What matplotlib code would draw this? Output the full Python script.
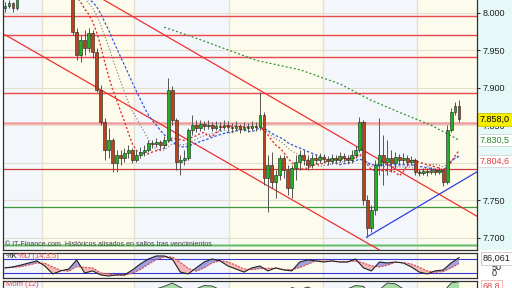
import numpy as np
import pandas as pd
import matplotlib
matplotlib.use("Agg")
import matplotlib.pyplot as plt
from matplotlib.patches import Rectangle

plt.rcParams['font.family'] = ['Liberation Sans', 'DejaVu Sans']

# price bars, open = previous close
first_open = 8.007
closes = [8.009, 8.013, 8.007, 8.024, 8.033, 8.041, 8.047, 8.051, 8.044, 8.037, 8.041, 8.047, 8.044, 8.037, 8.033, 8.031, 8.028,
          7.975, 7.944, 7.964, 7.953, 7.973, 7.948, 7.897, 7.855, 7.817, 7.831, 7.800, 7.811, 7.807, 7.813, 7.817, 7.804,
          7.811, 7.815, 7.817, 7.827, 7.825, 7.828, 7.824, 7.831,
          7.897, 7.857, 7.801, 7.804, 7.807, 7.844, 7.851, 7.847, 7.852, 7.849, 7.851, 7.847, 7.849, 7.848, 7.851, 7.848,
          7.847, 7.849, 7.845, 7.848, 7.847, 7.849, 7.848,
          7.864, 7.780, 7.797, 7.775, 7.784, 7.807, 7.791, 7.767, 7.793, 7.801, 7.811, 7.804, 7.797, 7.807, 7.804, 7.808,
          7.805, 7.803, 7.807, 7.804, 7.809, 7.807, 7.804, 7.811, 7.817,
          7.855, 7.751, 7.713, 7.737, 7.797, 7.811, 7.801, 7.807, 7.800, 7.808, 7.804, 7.807, 7.801, 7.804, 7.788, 7.787,
          7.789, 7.788, 7.791, 7.788, 7.791, 7.775, 7.844, 7.868, 7.876, 7.858]
highs = [8.015, 8.017, 8.015, 8.031, 8.040, 8.048, 8.053, 8.057, 8.051, 8.044, 8.048, 8.053, 8.051, 8.044, 8.040, 8.037, 8.035,
         8.028, 7.980, 7.971, 7.977, 7.980, 7.977, 7.953, 7.904, 7.860, 7.847, 7.833, 7.817, 7.817, 7.820, 7.824, 7.820,
         7.817, 7.821, 7.824, 7.831, 7.831, 7.833, 7.831, 7.836,
         7.913, 7.903, 7.860, 7.811, 7.817, 7.847, 7.864, 7.857, 7.857, 7.856, 7.857, 7.855, 7.856, 7.855, 7.857, 7.856,
         7.853, 7.856, 7.852, 7.855, 7.853, 7.856, 7.855,
         7.895, 7.868, 7.811, 7.815, 7.791, 7.811, 7.811, 7.797, 7.797, 7.811, 7.817, 7.817, 7.811, 7.812, 7.811, 7.813,
         7.812, 7.809, 7.812, 7.811, 7.815, 7.813, 7.811, 7.817, 7.823,
         7.861, 7.857, 7.757, 7.744, 7.804, 7.860, 7.837, 7.831, 7.817, 7.815, 7.812, 7.813, 7.811, 7.809, 7.807, 7.792,
         7.793, 7.793, 7.795, 7.793, 7.795, 7.793, 7.851, 7.873, 7.881, 7.884]
lows = [8.001, 8.007, 8.001, 8.004, 8.027, 8.035, 8.040, 8.044, 8.037, 8.031, 8.035, 8.040, 8.037, 8.031, 8.027, 8.024, 8.021,
        7.971, 7.937, 7.935, 7.944, 7.948, 7.940, 7.895, 7.851, 7.804, 7.807, 7.788, 7.788, 7.797, 7.801, 7.807, 7.800,
        7.801, 7.807, 7.809, 7.815, 7.820, 7.821, 7.819, 7.820,
        7.828, 7.851, 7.791, 7.784, 7.797, 7.804, 7.837, 7.841, 7.843, 7.844, 7.845, 7.843, 7.844, 7.843, 7.845, 7.843,
        7.841, 7.844, 7.840, 7.843, 7.841, 7.844, 7.843,
        7.844, 7.771, 7.735, 7.767, 7.753, 7.777, 7.780, 7.757, 7.753, 7.777, 7.791, 7.797, 7.791, 7.793, 7.799, 7.800,
        7.800, 7.797, 7.799, 7.799, 7.801, 7.801, 7.799, 7.800, 7.807,
        7.815, 7.744, 7.701, 7.708, 7.731, 7.784, 7.771, 7.784, 7.788, 7.793, 7.797, 7.799, 7.796, 7.797, 7.784, 7.783,
        7.784, 7.783, 7.785, 7.784, 7.785, 7.769, 7.772, 7.841, 7.864, 7.855]

# long moving average (bar index, price)
ma_long_x = [40, 49.25, 63, 74.25, 84.25, 91.75, 99.25, 106.75, 114]
ma_long_y = [7.981, 7.964, 7.937, 7.924, 7.905, 7.884, 7.867, 7.851, 7.8305]

red_levels = [7.996, 7.971, 7.941, 7.893]
pink_level = 7.853
red_level = 7.792
green_level = 7.741
green_level2 = 7.691

chan_a = ([0, 94], [7.971, 7.684])
chan_b = ([24, 118.5], [8.020, 7.729])
up_line = ([90.75, 118.75], [7.701, 7.789])

day_breaks = [9.25, 32.5, 56.25, 79.75, 103.5]
price_ticks = [7.70, 7.75, 7.80, 7.85, 7.90, 7.95, 8.00]

# stochastic %K, every second bar
stoch_k = [42, 46, 54, 63, 72, 50, 16, 29, 37, 76, 20, 29, 12, 7, 12, 12, 33, 59, 80, 93,
           93, 80, 24, 16, 42, 67, 80, 72, 50, 37, 24, 42, 50, 29, 42, 33, 29, 67, 76, 72,
           67, 72, 67, 67, 80, 42, 29, 67, 63, 67, 63, 46, 24, 16, 29, 33, 63, 86.06]
# momentum (12), every second bar
mom = [-10, -25, -40, -55, -60, -50, -30, -20, -35, -45, -50, -40, -30, -15, 0, 10, 5, 15, 20, 25,
       40, 60, 35, 10, 25, 45, 42, 20, 5, -10, -20, -5, 10, -15, -30, -10, 33, 20, 36, 15,
       5, 10, 15, 25, 45, 40, -20, 20, 60, 55, 25, 10, -5, -15, -10, 5, 60, 68.8]

W, H = 512, 288
fig = plt.figure(figsize=(W / 100, H / 100), dpi=100, facecolor='white')
fig.patches.append(Rectangle((477 / W, 38 / H), 35 / W, 250 / H, transform=fig.transFigure,
                             fc='#e6f9f9', ec='none', zorder=-5))

ax = fig.add_axes([3 / W, 38 / H, 474 / W, 250 / H])
ax_st = fig.add_axes([3 / W, 10 / H, 474 / W, 25 / H])
ax_m = fig.add_axes([3 / W, -18 / H, 474 / W, 25 / H])

x_lo, x_hi = -0.5, 118.5
edges = [x_lo] + day_breaks + [x_hi]
for a in (ax, ax_st, ax_m):
    a.set_xlim(x_lo, x_hi)
    a.set_facecolor('none')
    for k in range(len(edges) - 1):
        a.axvspan(edges[k], edges[k + 1], color='#f3f7fc' if k % 2 == 0 else '#fdfcec', lw=0, zorder=0)
    for b in day_breaks:
        a.axvline(b, color='#e4e1d2', lw=1, zorder=1)
    a.set_xticks([])
    for s in a.spines.values():
        s.set_color('#303030')
        s.set_linewidth(0.9)

# main panel
ax.set_ylim(7.684, 8.0173)
for t in price_ticks:
    ax.axhline(t, color='#e2dfcf', lw=0.8, zorder=1)
for lv in red_levels:
    ax.axhline(lv, color='#f6c4c4', lw=1.8, zorder=1)
    ax.axhline(lv, color='#e84848', lw=0.7, zorder=1)
ax.axhline(pink_level, color='#f6b8b8', lw=2.2, zorder=1)
ax.axhline(pink_level, color='#ee9090', lw=0.6, zorder=1)
ax.axhline(red_level, color='#d03838', lw=0.9, zorder=1)
ax.axhline(green_level, color='#3c963c', lw=0.9, zorder=1)
ax.axhline(green_level2, color='#a8dca8', lw=2.2, zorder=1)
ax.axhline(green_level2, color='#60b060', lw=0.6, zorder=1)

ax.plot(*chan_a, color='#f03030', lw=0.9, zorder=2)
ax.plot(*chan_b, color='#f03030', lw=0.9, zorder=2)
ax.plot(*up_line, color='#3040e0', lw=0.9, zorder=2)

c = np.array(closes)
o = np.array([first_open] + closes[:-1])
x = np.arange(len(c))
s = pd.Series(closes)
ax.plot(x, s.rolling(15).mean(), color='#8c8c8c', lw=0.9, ls=(0, (1, 1.5)), zorder=3)
ax.plot(x, s.rolling(20).mean(), color='#3355dd', lw=0.9, ls=(0, (2, 1.5)), zorder=3)
ax.plot(x, s.rolling(10).mean(), color='#e03030', lw=1.0, ls=(0, (1.5, 1.5)), zorder=3)
ax.plot(ma_long_x, ma_long_y, color='#2e8b2e', lw=0.9, ls=(0, (1.5, 1.8)), zorder=3)

ax.vlines(x, lows, highs, color='#555555', lw=0.7, zorder=4)
up = c >= o
body = np.maximum(np.abs(c - o), 0.0008)
ax.bar(x[up], body[up], bottom=o[up], width=0.7, color='#22b022', edgecolor='#1e1e1e', lw=0.4, zorder=5)
ax.bar(x[~up], body[~up], bottom=c[~up], width=0.7, color='#b8441c', edgecolor='#1e1e1e', lw=0.4, zorder=5)

ax.yaxis.tick_right()
ax.set_yticks(price_ticks)
ax.set_yticklabels([f"{t:.3f}" for t in price_ticks], fontsize=6.5, color='#202020')
ax.tick_params(axis='y', length=2, pad=2, color='#303030')
ax.spines['top'].set_visible(False)

yt = ax.get_yaxis_transform()
ax.text(1.006, 7.858, '7.858,0', transform=yt, fontsize=6.5, va='center', ha='left', zorder=10,
        bbox=dict(boxstyle='square,pad=0.2', fc='#f6ef00', ec='#c8b800', lw=0.5))
ax.text(1.006, 7.8305, '7.830,5', transform=yt, fontsize=6.5, va='center', ha='left', color='#2a8a2a', zorder=10,
        bbox=dict(boxstyle='square,pad=0.2', fc='white', ec='#cccccc', lw=0.5))
ax.text(1.006, 7.8026, '7.804,6', transform=yt, fontsize=6.5, va='center', ha='left', color='#e03c3c', zorder=10,
        bbox=dict(boxstyle='square,pad=0.2', fc='white', ec='#cccccc', lw=0.5))
ax.text(0.005, 0.02, '\u00a9 IT-Finance.com  Hist\u00f3ricos alisados en saltos tras vencimientos',
        transform=ax.transAxes, fontsize=5, color='#404040', va='center', ha='left', zorder=6)

# stochastic panel
xk = np.arange(0, len(closes), 2)
k = pd.Series(stoch_k)
d = k.rolling(3, min_periods=1).mean()
ax_st.set_ylim(-1.4, 105.7)
ax_st.axhline(80, color='#3838d0', lw=0.8, zorder=2)
ax_st.axhline(20, color='#3838d0', lw=0.8, zorder=2)
ax_st.fill_between(xk, k, d, where=k >= d, interpolate=True, color='#7c7cd8', alpha=0.7, lw=0, zorder=2)
ax_st.fill_between(xk, k, d, where=k < d, interpolate=True, color='#f2a8a8', alpha=0.8, lw=0, zorder=2)
ax_st.plot(xk, d, color='#e04848', lw=0.8, ls=(0, (2, 1)), zorder=3)
ax_st.plot(xk, k, color='#222222', lw=0.8, zorder=4)
ax_st.set_yticks([])
ax_st.text(0.006, 0.86, '%K', transform=ax_st.transAxes, fontsize=5.5, color='#202020', va='center')
ax_st.text(0.032, 0.86, '%D (14,3,5)', transform=ax_st.transAxes, fontsize=5.5, color='#e04848', va='center')
ax_st.text(1.03, 0.44, '50', transform=ax_st.transAxes, fontsize=6.5, color='#202020', va='center')
ax_st.text(1.03, 0.18, '0', transform=ax_st.transAxes, fontsize=6.5, color='#202020', va='center')
ax_st.text(1.012, 0.78, '86,061', transform=ax_st.transAxes, fontsize=6.5, color='#202020', va='center', zorder=10,
           bbox=dict(boxstyle='square,pad=0.2', fc='white', ec='#bbbbbb', lw=0.5))

# momentum panel
m = np.array(mom)
ax_m.set_ylim(-78, 72)
ax_m.fill_between(xk, m, 0, where=m >= 0, interpolate=True, color='#a8dca8', lw=0, zorder=2)
ax_m.fill_between(xk, m, 0, where=m < 0, interpolate=True, color='#f4b4b4', lw=0, zorder=2)
ax_m.plot(xk, m, color='#333333', lw=0.6, zorder=3)
ax_m.set_yticks([])
ax_m.spines['bottom'].set_visible(False)
ax_m.text(0.006, 0.86, 'Mom (12)', transform=ax_m.transAxes, fontsize=5.5, color='#e04848', va='center')
ax_m.text(1.012, 0.8, '68,8', transform=ax_m.transAxes, fontsize=6.5, color='#e04848', va='center', zorder=10,
          bbox=dict(boxstyle='square,pad=0.2', fc='white', ec='#f0a0a0', lw=0.5))

fig.savefig('out.png', dpi=100)
